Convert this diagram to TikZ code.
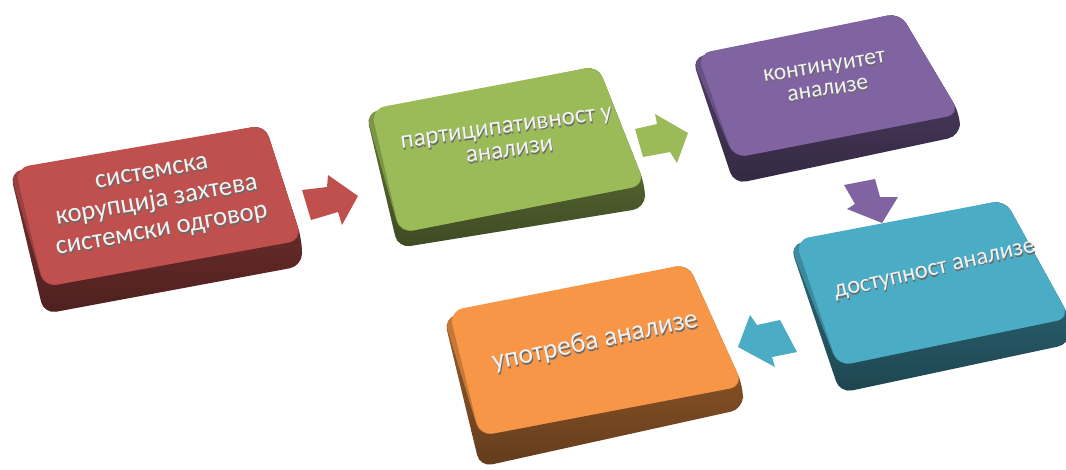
\documentclass[tikz,border=0pt]{standalone}
\usepackage{fontspec}
\setmainfont{Carlito}
\definecolor{cred}{HTML}{C0504D}
\definecolor{cgreen}{HTML}{9BBB59}
\definecolor{cpurple}{HTML}{8064A2}
\definecolor{cteal}{HTML}{4BACC6}
\definecolor{corange}{HTML}{F79646}
\definecolor{txtface}{HTML}{F2F2F2}
\definecolor{txtshade}{HTML}{6A6A6A}
% #1 colour, #2 TL, #3 TL inner, #4 TR, #5 RB (top face), #6 LB (top face), #7 RB2 (bottom), #8 LB2 (bottom)
\newcommand\pptbox[8]{%
  \shade[top color=#1!70!black, bottom color=#1!40!black, rounded corners=7pt]
    #2 -- #4 -- #5 -- #7 -- #8 -- cycle;
  \fill[#1!80!black, rounded corners=7pt] #2 -- #4 -- #5 -- #6 -- cycle;
  \fill[#1, rounded corners=8pt] #3 -- #4 -- #5 -- #6 -- cycle;
}
% embossed text line: grey copy slightly below, light copy on top
\newcommand\emb[1]{\rlap{\raisebox{-0.08em}[0pt][0pt]{\kern0.02em\textcolor{txtshade}{#1}}}#1}
\tikzset{
  x=0.02cm, y=-0.02cm,
  blockarrow/.style={fill=#1, draw=none},
  boxtext/.style={text=txtface, align=center, inner sep=0pt},
}
\begin{document}
\begin{tikzpicture}
\useasboundingbox (0,0) rectangle (1066,470);
\clip (0,0) rectangle (1066,470);
\fill[white] (0,0) rectangle (1066,470);

% boxes
\pptbox{cred}{(10,172)}{(15,168)}{(265,125)}{(302,240)}{(44,287)}{(302,266)}{(44,314)}
\pptbox{cgreen}{(366,113)}{(371,109)}{(598,66)}{(645,185)}{(400,233)}{(645,208)}{(398,248)}
\pptbox{cpurple}{(692,58)}{(697,54)}{(900,13)}{(960,114)}{(734,158)}{(960,136)}{(734,184)}
\pptbox{cteal}{(790,245)}{(795,240)}{(1005,200)}{(1070,318)}{(838,366)}{(1070,344)}{(840,393)}
\pptbox{corange}{(444,318)}{(449,311)}{(688,264)}{(743,386)}{(480,436)}{(743,409)}{(480,467)}

% block arrows
\fill[blockarrow=cred] (302,190) -- (327,187) -- (328,175) -- (358,196) -- (342,225) -- (338,212) -- (311,220) -- cycle;
\fill[blockarrow=cgreen] (635,129) -- (657,124) -- (655,114) -- (688,133) -- (677,163) -- (670,152) -- (643,157) -- cycle;
\fill[blockarrow=cpurple] (844,185) -- (875,179) -- (880,197) -- (898,197) -- (882,223) -- (847,209) -- (855,204) -- cycle;
\fill[blockarrow=cteal] (738,347) -- (750,315) -- (757,325) -- (780,320) -- (797,352) -- (772,357) -- (775,367) -- cycle;

% texts
\node[boxtext, rotate=10, font={\fontsize{15.2}{16.6}\selectfont}] (t1) at (157,203)
  {\emb{системска}\\\emb{корупција захтева}\\\emb{системски одговор}};
\node[boxtext, rotate=8, font={\fontsize{14.3}{13.4}\selectfont}] (t2) at (508,139)
  {\emb{партиципативност у}\\\emb{анализи}};
\node[boxtext, rotate=9, font={\fontsize{13.4}{13.2}\selectfont}] (t3) at (826,78)
  {\emb{континуитет}\\\emb{анализе}};
\node[boxtext, rotate=13, font={\fontsize{13.9}{15}\selectfont}] (t4) at (935,271)
  {\emb{доступност анализе}};
\node[boxtext, rotate=12, font={\fontsize{15.7}{17}\selectfont}] (t5) at (595,341)
  {\emb{употреба анализе}};
\end{tikzpicture}
\end{document}
